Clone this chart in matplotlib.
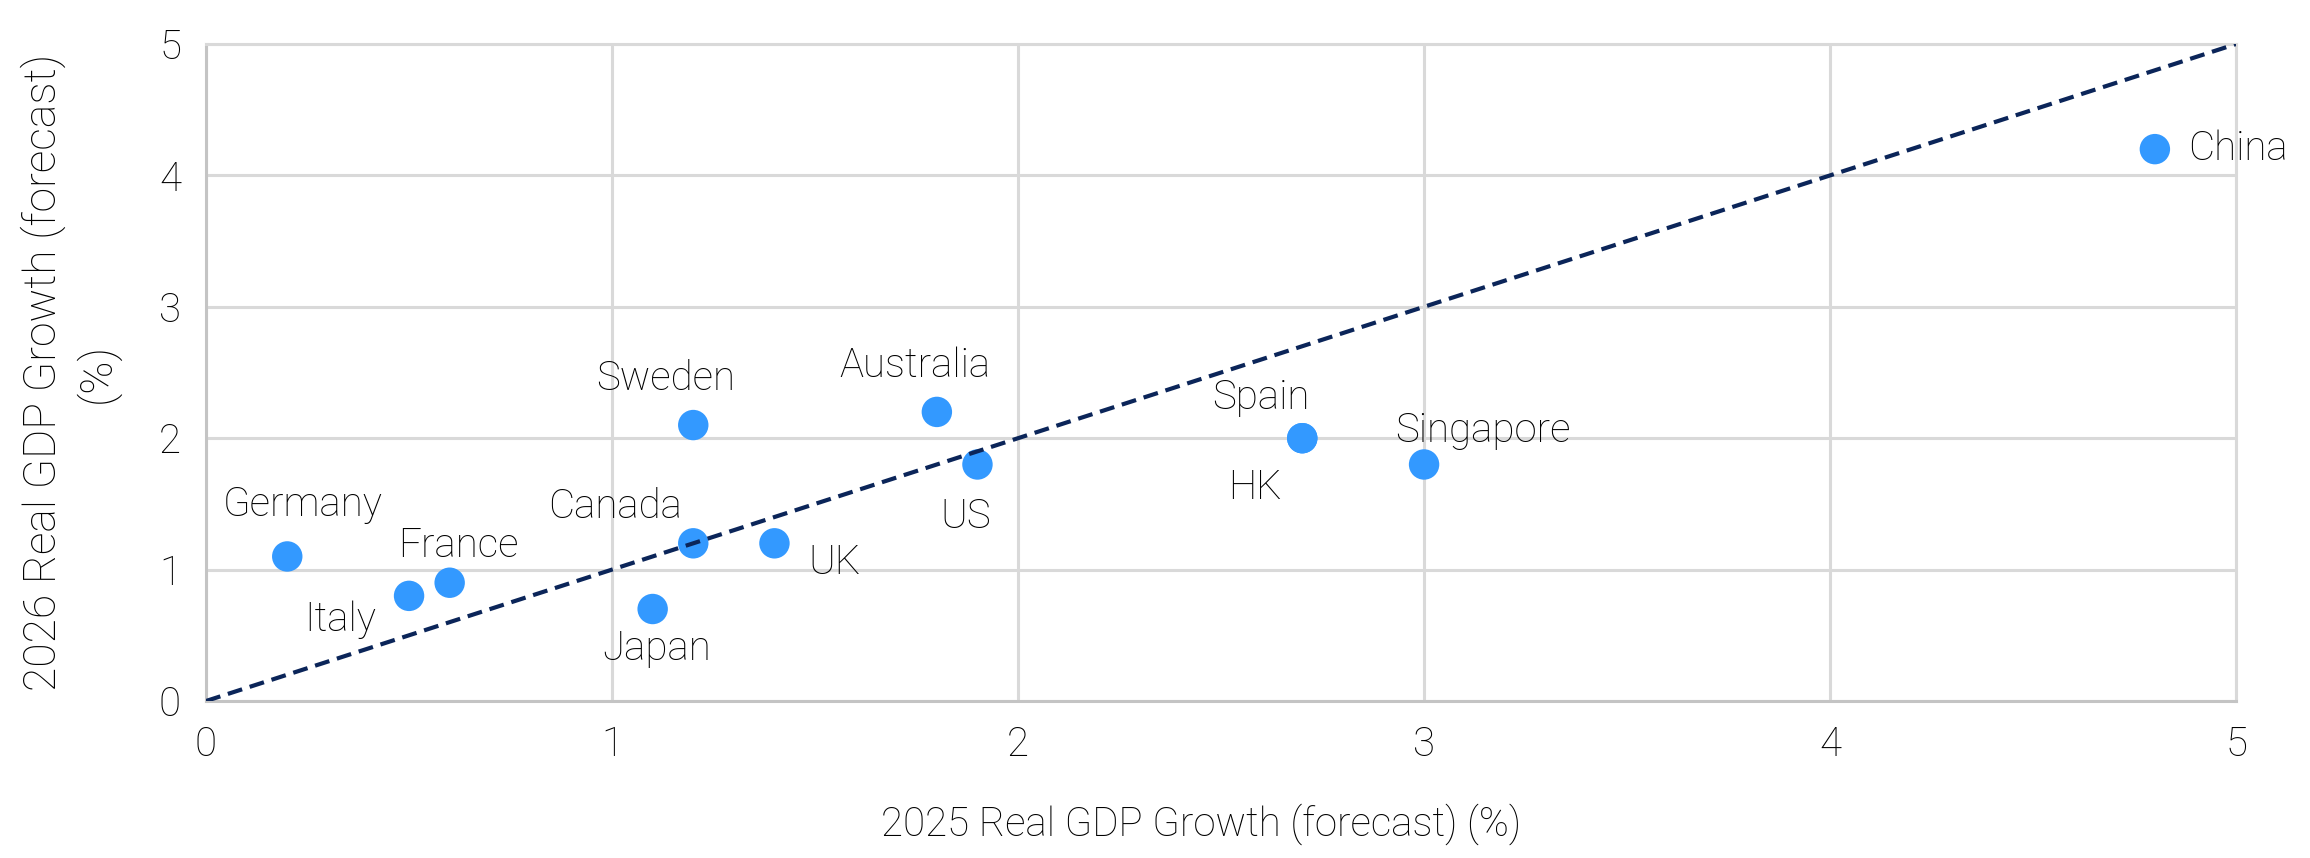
import matplotlib
matplotlib.use("Agg")
import matplotlib.pyplot as plt

countries = ["Germany", "Italy", "France", "Japan", "Canada", "Sweden", "UK",
             "Australia", "US", "Spain", "HK", "Singapore", "China"]
gdp_2025 = [0.2, 0.5, 0.6, 1.1, 1.2, 1.2, 1.4, 1.8, 1.9, 2.7, 2.7, 3.0, 4.8]
gdp_2026 = [1.1, 0.8, 0.9, 0.7, 1.2, 2.1, 1.2, 2.2, 1.8, 2.0, 2.0, 1.8, 4.2]
ref_x = [0, 5]
ref_y = [0, 5]
ticks = [0, 1, 2, 3, 4, 5]

# label offsets in pixels (dx, dy up-positive) and alignment
label_pos = {
    "Germany": (15, 52, "center"),
    "Italy": (-69, -24, "center"),
    "France": (9, 37, "center"),
    "Japan": (4, -40, "center"),
    "Canada": (-78, 37, "center"),
    "Sweden": (-28, 46, "center"),
    "UK": (60, -19, "center"),
    "Australia": (-22, 46, "center"),
    "US": (-12, -52, "center"),
    "Spain": (-41, 40, "center"),
    "HK": (-47, -50, "center"),
    "Singapore": (59, 34, "center"),
    "China": (33, 0, "left"),
}

plt.rcParams['font.family'] = ['Roboto', 'DejaVu Sans']
FS = 29
grey = "#D9D9D9"
spine_grey = "#C4C4C4"
txt = "#000000"

fig = plt.figure(figsize=(23.1, 8.58), dpi=100)
ax = fig.add_axes([0.0892, 0.183, 0.8788, 0.7657])

ax.set_xlim(0, 5)
ax.set_ylim(0, 5)
ax.set_xticks(ticks)
ax.set_yticks(ticks)
ax.grid(True, color=grey, linewidth=2.2)
ax.set_axisbelow(True)
for name, s in ax.spines.items():
    s.set_color(spine_grey if name in ("left", "bottom") else grey)
    s.set_linewidth(2.2)
ax.tick_params(length=0, labelsize=FS, labelcolor=txt, pad=18)
for lbl in ax.get_xticklabels() + ax.get_yticklabels():
    lbl.set_fontweight("light")

ax.scatter(gdp_2025, gdp_2026, s=480, color="#3399FF", edgecolors="none", zorder=3)
ax.plot(ref_x, ref_y, color="#0B2559", linewidth=3, linestyle=(0, (3.6, 1.9)), zorder=4)

for c, x, y in zip(countries, gdp_2025, gdp_2026):
    dx, dy, ha = label_pos[c]
    ax.annotate(c, (x, y), xytext=(dx, dy), textcoords="offset pixels",
                ha=ha, va="center", fontsize=FS, fontweight="light",
                color=txt, annotation_clip=False, clip_on=False, zorder=5)

ax.set_xlabel("2025 Real GDP Growth (forecast) (%)", fontsize=FS, fontweight="light",
              color=txt, labelpad=22)
ax.xaxis.set_label_coords(0.49, -0.155)
ax.set_ylabel("2026 Real GDP Growth (forecast)\n(%)", fontsize=32, fontweight="light",
              color=txt, labelpad=28, linespacing=1.25)

fig.savefig("out.png", dpi=100)
